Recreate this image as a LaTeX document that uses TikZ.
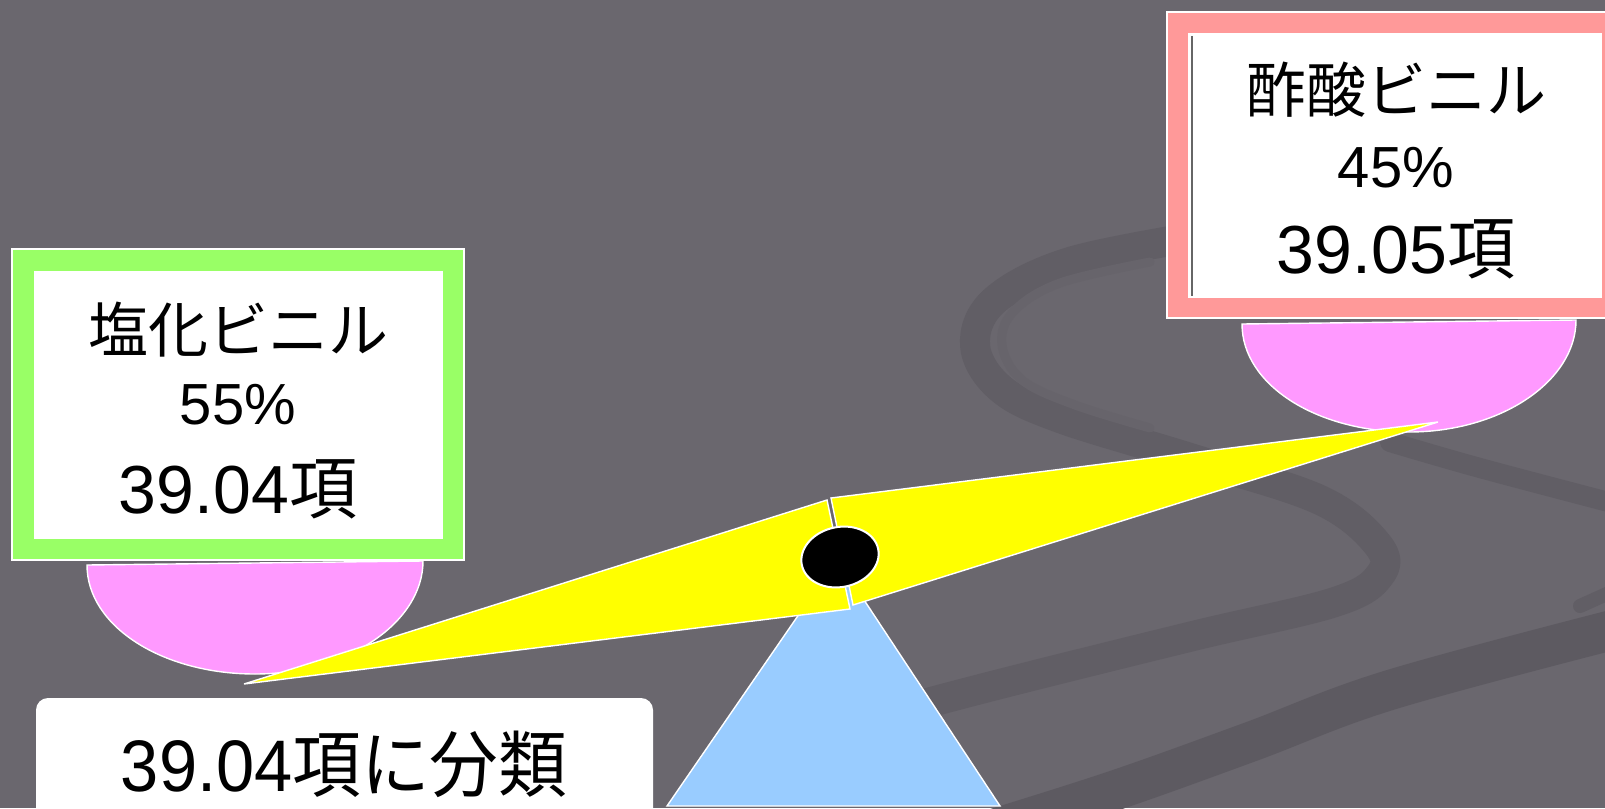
\documentclass[tikz,border=0pt]{standalone}
\usepackage{fontspec}
\setmainfont{Liberation Sans}
\newfontfamily\jp{Noto Sans CJK JP}
\usetikzlibrary{calc}

\definecolor{bg}{RGB}{106,103,110}
\definecolor{bgdark}{RGB}{97,94,101}
\definecolor{bgdeep}{RGB}{93,90,97}
\definecolor{bgmid}{RGB}{103,100,107}
\definecolor{boxgreen}{RGB}{153,255,102}
\definecolor{boxred}{RGB}{255,153,153}
\definecolor{pan}{RGB}{255,153,255}
\definecolor{beamyellow}{RGB}{255,255,0}
\definecolor{stand}{RGB}{153,204,255}

\tikzset{
  swoosh/.style={line cap=round, line join=round},
  outline/.style={draw=white, line width=1.4pt, line join=miter},
  rowA/.style={inner sep=0pt, font=\fontsize{60}{66}\selectfont},
  rowB/.style={inner sep=0pt, font=\fontsize{58}{64}\selectfont},
  rowC/.style={inner sep=0pt, font=\fontsize{68}{74}\selectfont},
  verdict/.style={inner sep=0pt, font=\fontsize{73}{80}\selectfont, xscale=0.94},
}

\begin{document}
\begin{tikzpicture}[x=1pt,y=-1pt]
\useasboundingbox (0,0) rectangle (1605,808);
\clip (0,0) rectangle (1605,808);
\fill[bg] (0,0) rectangle (1605,808);

% soft brush strokes in the backdrop
\draw[swoosh, bgdark, line width=30pt] plot[smooth, tension=0.6] coordinates
  {(1200,236) (1070,262) (995,300) (975,345) (1000,388) (1060,418) (1190,458)
   (1320,500) (1378,545) (1380,575) (1335,602) (1193,636) (1000,684) (880,716) (790,742)};
\draw[swoosh, bgdark, line width=12pt] plot[smooth, tension=0.6] coordinates
  {(1040,282) (985,318) (972,350)};
\draw[swoosh, bgmid, line width=9pt] plot[smooth, tension=0.6] coordinates
  {(1150,262) (1060,283) (1013,312) (1002,345) (1022,380) (1075,405) (1150,428)};
\draw[swoosh, bgdeep, line width=40pt] plot[smooth, tension=0.6] coordinates
  {(990,830) (1116,790) (1250,742) (1390,690) (1620,628)};
\draw[swoosh, bgdark, line width=20pt] plot[smooth, tension=0.6] coordinates
  {(1390,442) (1480,468) (1620,505)};
\draw[swoosh, bgdark, line width=14pt] (1580,606) -- (1620,588);

% label boxes
\filldraw[fill=boxgreen, outline] (12,249) rectangle (464,560);
\fill[white] (34,271) rectangle (443,539);
\node[rowA] (pvcname) at (238,330) {\jp 塩化ビニル};
\node[rowB] (pvcshare) at (238,405) {55\%};
\node[rowC] (pvcheading) at (238,489) {39.04{\jp 項}};

\filldraw[fill=boxred, outline] (1167,12) rectangle (1625,318);
\fill[white] (1188,33) rectangle (1602,298);
\draw[black!60, line width=1.5pt] (1192,36) -- (1192,296);
\node[rowA] (vacname) at (1396,90) {\jp 酢酸ビニル};
\node[rowB] (vacshare) at (1396,168) {45\%};
\node[rowC] (vacheading) at (1396,249) {39.05{\jp 項}};

% scale pans
\filldraw[fill=pan, outline] (87,565) .. controls (87,626) and (162,674) .. (255,674)
  .. controls (348,674) and (423,622) .. (423,561) -- cycle;
\filldraw[fill=pan, outline] (1242,324) .. controls (1242,385) and (1317,432) .. (1409,432)
  .. controls (1501,432) and (1576,381) .. (1576,320) -- cycle;

% stand
\filldraw[fill=stand, outline] (837,559) -- (1000,806) -- (667,806) -- cycle;

% beam, in two halves
\filldraw[fill=beamyellow, outline] (244,684) -- (827,500) -- (850,609) -- cycle;
\filldraw[fill=beamyellow, outline] (831,498) -- (1438,422) -- (853,605) -- cycle;

% pivot
\filldraw[fill=black, draw=white, line width=2pt, rotate around={12:(840,557)}]
  (840,557) ellipse [x radius=39, y radius=30];

% verdict
\fill[white, rounded corners=12pt] (36,698) rectangle (653,840);
\node[verdict] (verdict) at (344,764) {39.04{\jp 項に分類}};
\end{tikzpicture}
\end{document}
